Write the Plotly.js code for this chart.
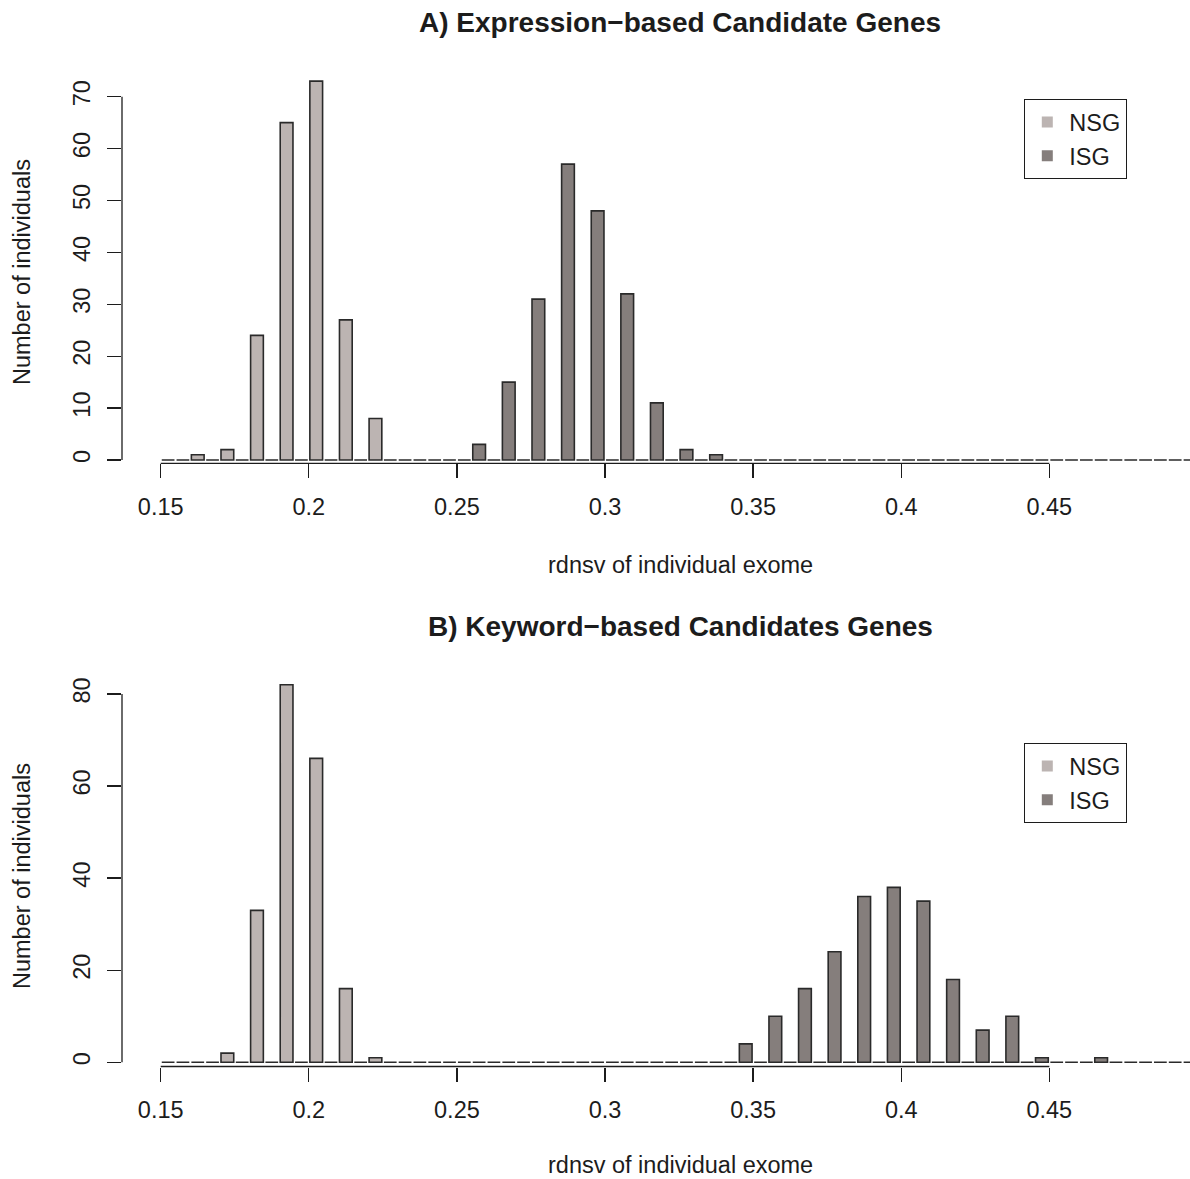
<!DOCTYPE html>
<html><head><meta charset="utf-8">
<script src="https://cdn.plot.ly/plotly-3.0.1.min.js"></script>
<style>html,body{margin:0;padding:0;background:#fff}</style>
</head><body><div id="chart" style="width:1190px;height:1179px"></div>
<script>
// bin start values (bins of width 0.01)
const binStart = [0.15,0.16,0.17,0.18,0.19,0.20,0.21,0.22,0.23,0.24,
                  0.25,0.26,0.27,0.28,0.29,0.30,0.31,0.32,0.33,0.34,
                  0.35,0.36,0.37,0.38,0.39,0.40,0.41,0.42,0.43,0.44,
                  0.45,0.46,0.47,0.48,0.49];
// Panel A: Expression-based candidate genes
const nsgA = [0,1,2,24,65,73,27,8,0,0, 0,0,0,0,0,0,0,0,0,0, 0,0,0,0,0,0,0,0,0,0, 0,0,0,0,0];
const isgA = [0,0,0,0,0,0,0,0,0,0, 3,15,31,57,48,32,11,2,1,0, 0,0,0,0,0,0,0,0,0,0, 0,0,0,0,0];
// Panel B: Keyword-based candidate genes
const nsgB = [0,0,2,33,82,66,16,1,0,0, 0,0,0,0,0,0,0,0,0,0, 0,0,0,0,0,0,0,0,0,0, 0,0,0,0,0];
const isgB = [0,0,0,0,0,0,0,0,0,0, 0,0,0,0,0,0,0,0,0,4, 10,16,24,36,38,35,18,7,10,1, 0,1,0,0,0];

const xTickVals = [0.15,0.2,0.25,0.3,0.35,0.4,0.45];
const xTickText = ['0.15','0.2','0.25','0.3','0.35','0.4','0.45'];
const yTicksA = [0,10,20,30,40,50,60,70];
const yTicksB = [0,20,40,60,80];
const seriesNames = ['NSG','ISG'];
const titles = ['A) Expression\u2212based Candidate Genes','B) Keyword\u2212based Candidates Genes'];
const xTitle = 'rdnsv of individual exome';
const yTitle = 'Number of individuals';

const colNSG = '#bcb4b2';
const colISG = '#857e7c';
const edge = '#2a2a2a';
const ink = '#1c1c1c';
const FONT = '"Liberation Sans", Arial, Helvetica, sans-serif';
const fs = 23.5;

const xc = binStart.map(v => v + 0.005);

function bars(vals, color, xa, ya, name){
  return {type:'bar', x:xc, y:vals, name:name, xaxis:xa, yaxis:ya,
    marker:{color:color, line:{color:edge, width:1.6}}, showlegend:false,
    hoverinfo:'x+y'};
}
function legendDummy(color, name, leg, xa, ya){
  return {type:'scatter', mode:'markers', x:[null], y:[null], xaxis:xa, yaxis:ya,
    name:name, legend:leg, showlegend:true,
    marker:{symbol:'square', size:11, color:color, line:{width:0}}};
}

const data = [
  bars(nsgA, colNSG, 'x', 'y', seriesNames[0]),
  bars(isgA, colISG, 'x', 'y', seriesNames[1]),
  bars(nsgB, colNSG, 'x2', 'y2', seriesNames[0]),
  bars(isgB, colISG, 'x2', 'y2', seriesNames[1]),
  legendDummy(colNSG, seriesNames[0], 'legend', 'x', 'y'),
  legendDummy(colISG, seriesNames[1], 'legend', 'x', 'y'),
  legendDummy(colNSG, seriesNames[0], 'legend2', 'x2', 'y2'),
  legendDummy(colISG, seriesNames[1], 'legend2', 'x2', 'y2')
];

const xRange = [0.13693, 0.4975];
function xAxis(anchor){
  return {range:xRange, anchor:anchor, showgrid:false, zeroline:false, showline:false,
    tickmode:'array', tickvals:xTickVals, ticktext:xTickText,
    ticks:'outside', ticklen:14, tickwidth:1.3, tickcolor:ink,
    ticklabelstandoff:8,
    tickfont:{family:FONT, size:fs, color:ink}, fixedrange:true};
}
function yAxis(anchor, domain, range, tv){
  return {range:range, domain:domain, anchor:anchor, showgrid:false, zeroline:false, showline:false,
    tickmode:'array', tickvals:tv, ticktext:tv.map(String),
    ticks:'outside', ticklen:14, tickwidth:1.3, tickcolor:ink, tickangle:-90,
    ticklabelstandoff:8,
    tickfont:{family:FONT, size:fs, color:ink}, fixedrange:true};
}
function axisLines(xr, yr, ytop){
  return [
    {type:'line', xref:xr, yref:yr+' domain', x0:0.15, x1:0.45, y0:0, y1:0, line:{color:ink, width:1.3}},
    {type:'line', xref:xr+' domain', yref:yr, x0:0, x1:0, y0:0, y1:ytop, line:{color:ink, width:1.3}}
  ];
}
function ann(text, x, y, opts){
  return Object.assign({text:text, x:x, y:y, xref:'paper', yref:'paper', showarrow:false,
    xanchor:'center', yanchor:'middle', font:{family:FONT, size:fs, color:ink}}, opts||{});
}
const H = 1179, L = 122, W = 1190 - L;
const px = v => (v - L) / W;
const py = v => 1 - v / H;

const layout = {
  width:1190, height:1179,
  margin:{l:L, r:0, t:0, b:0},
  paper_bgcolor:'#ffffff', plot_bgcolor:'#ffffff',
  barmode:'group', bargap:0, bargroupgap:0.14,
  xaxis:xAxis('y'),
  yaxis:yAxis('x', [py(463.3), py(75)], [-0.64, 74.18], yTicksA),
  xaxis2:xAxis('y2'),
  yaxis2:yAxis('x2', [py(1066.5), py(670)], [-0.91, 85.2], yTicksB),
  shapes:[].concat(axisLines('x','y',70), axisLines('x2','y2',80)),
  annotations:[
    ann(titles[0], px(680), py(22), {font:{family:FONT, size:28, color:ink, weight:'bold'}}),
    ann(titles[1], px(680), py(626), {font:{family:FONT, size:28, color:ink, weight:'bold'}}),
    ann(xTitle, px(680), py(565)),
    ann(xTitle, px(680), py(1165)),
    ann(yTitle, px(22), py(272), {textangle:-90}),
    ann(yTitle, px(22), py(876), {textangle:-90})
  ],
  legend:{x:px(1024), y:py(99), xanchor:'left', yanchor:'top', bgcolor:'#ffffff',
    bordercolor:ink, borderwidth:1.3, font:{family:FONT, size:fs, color:ink}, itemwidth:34},
  legend2:{x:px(1024), y:py(743), xanchor:'left', yanchor:'top', bgcolor:'#ffffff',
    bordercolor:ink, borderwidth:1.3, font:{family:FONT, size:fs, color:ink}, itemwidth:34},
  showlegend:true
};

Plotly.newPlot('chart', data, layout, {staticPlot:true, displayModeBar:false});
</script>
</body></html>
